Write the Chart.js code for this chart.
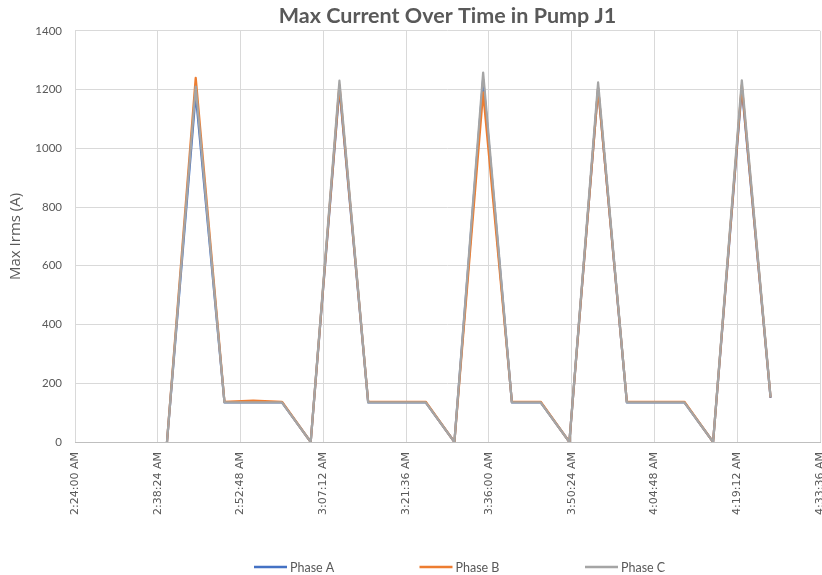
<!DOCTYPE html>
<html>
<head>
<meta charset="utf-8">
<script src="https://cdn.jsdelivr.net/npm/chart.js@4"></script>
<style>
html,body{margin:0;padding:0;background:#fff;}
#wrap{width:822px;height:575px;position:relative;}
</style>
</head>
<body>
<div id="wrap"><canvas id="c" width="822" height="575"></canvas></div>
<script>
const times = ["2:40","2:45","2:50","2:55","3:00","3:05","3:10","3:15","3:20","3:25","3:30","3:35","3:40","3:45","3:50","3:55","4:00","4:05","4:10","4:15","4:20","4:25"];
const phaseA = [0,1185,135,135,135,0,1205,135,135,135,0,1235,135,135,0,1205,135,135,135,0,1205,150];
const phaseB = [0,1240,137,141,137,0,1215,137,137,137,0,1190,137,137,0,1205,137,137,137,0,1215,152];
const phaseC = [0,1210,135,135,135,0,1230,135,135,135,0,1258,135,135,0,1224,135,135,135,0,1231,153];
const seriesNames = ["Phase A","Phase B","Phase C"];
const tickStart = "2:24:00", tickEnd = "4:33:36", tickStep = 864;
const yTicks = [0,200,400,600,800,1000,1200,1400];

function toSec(t){const p=t.split(':').map(Number);return p[0]*3600+p[1]*60+(p[2]||0);}
function fmt(s){s=Math.round(s);let h=Math.floor(s/3600),m=Math.floor((s%3600)/60),ss=s%60;const ap=h>=12?'PM':'AM';h=h%12;if(h===0)h=12;return h+':'+String(m).padStart(2,'0')+':'+String(ss).padStart(2,'0')+' '+ap;}
const xs = times.map(toSec);
const pts = arr => arr.map((v,i)=>({x:xs[i],y:v}));

const FONT = "Lato, 'Open Sans', sans-serif";
const GREY = '#595959';

const customLegend = {
  id:'customLegend',
  afterDraw(chart){
    const ctx = chart.ctx;
    const y = 567, start = 254, step = 165.5, lineLen = 33;
    ctx.save();
    ctx.font = "12.5px " + FONT;
    ctx.textBaseline = 'middle';
    ctx.textAlign = 'left';
    chart.data.datasets.forEach((ds,i)=>{
      const x = start + i*step;
      ctx.strokeStyle = ds.borderColor;
      ctx.lineWidth = 2.5;
      ctx.beginPath(); ctx.moveTo(x,y); ctx.lineTo(x+lineLen,y); ctx.stroke();
      ctx.fillStyle = GREY;
      ctx.fillText(ds.label, x+lineLen+3, y+1);
    });
    ctx.restore();
  }
};

new Chart(document.getElementById('c'),{
  type:'line',
  data:{datasets:[
    {label:seriesNames[0],data:pts(phaseA),borderColor:'#4472C4',backgroundColor:'#4472C4',borderWidth:2.25,pointRadius:0,order:2,tension:0,borderJoinStyle:'round'},
    {label:seriesNames[1],data:pts(phaseB),borderColor:'#ED7D31',backgroundColor:'#ED7D31',borderWidth:2.25,pointRadius:0,order:1,tension:0,borderJoinStyle:'round'},
    {label:seriesNames[2],data:pts(phaseC),borderColor:'#A5A5A5',backgroundColor:'#A5A5A5',borderWidth:2.25,pointRadius:0,order:0,tension:0,borderJoinStyle:'round'}
  ]},
  plugins:[customLegend],
  options:{
    responsive:false,animation:false,
    layout:{padding:{left:6,right:2,top:0,bottom:0}},
    plugins:{
      title:{display:true,fullSize:false,text:'Max Current Over Time in Pump J1',color:GREY,font:{family:FONT,size:21.5,weight:'bold'},padding:{top:3,bottom:2}},
      legend:{display:false},
      tooltip:{enabled:false}
    },
    scales:{
      x:{type:'linear',min:toSec(tickStart),max:toSec(tickEnd),
        ticks:{stepSize:tickStep,callback:v=>fmt(v),minRotation:90,maxRotation:90,color:GREY,font:{family:"'DejaVu Sans', sans-serif",size:11},autoSkip:false,padding:10},
        grid:{color:'#D9D9D9',drawTicks:false},border:{color:'#BFBFBF'},
        afterFit:(s)=>{s.height = 133; s.paddingLeft = 0; s.paddingRight = 0;}},
      y:{min:0,max:1400,afterBuildTicks:(s)=>{s.ticks = yTicks.map(v=>({value:v}));},
        ticks:{callback:v=>String(v),color:GREY,font:{family:FONT,size:11.5},padding:13},
        grid:{color:'#D9D9D9',drawTicks:false},border:{display:false},
        title:{display:true,text:'Max Irms (A)',color:GREY,font:{family:"'Open Sans', sans-serif",size:15},padding:{top:1,bottom:0}},
        afterFit:(s)=>{s.width = 69;}}
    }
  }
});
</script>
</body>
</html>
